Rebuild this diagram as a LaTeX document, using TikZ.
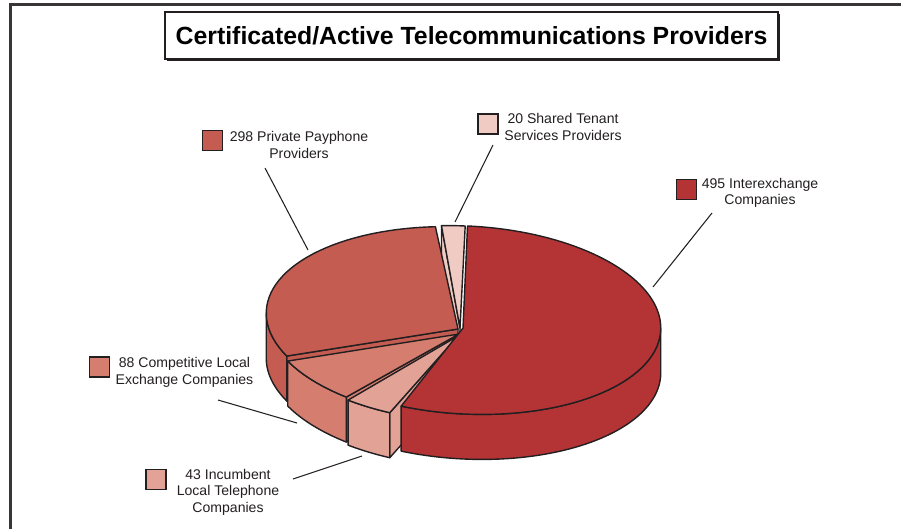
\documentclass[tikz,border=0pt]{standalone}
\usepackage{fontspec}
\setmainfont{Liberation Sans}
\usetikzlibrary{positioning, calc, shadows}

\definecolor{edgegray}{RGB}{35,31,32}
\definecolor{interred}{RGB}{180,52,54}
\definecolor{payred}{RGB}{196,92,82}
\definecolor{clecred}{RGB}{213,126,112}
\definecolor{ilecpink}{RGB}{226,162,150}
\definecolor{stspink}{RGB}{239,203,195}

\begin{document}
\begin{tikzpicture}[
    x=0.03cm, y=-0.03cm,
    declare function={ex(\t)=463+194.7*cos(\t)+4.92*sin(\t); ey(\t)=320+10.2*cos(\t)-93.87*sin(\t);},
    frame/.style={draw=edgegray!90, line width=2.2pt},
    title_box/.style={draw=edgegray, line width=1.1pt, fill=white, minimum width=18.39cm, minimum height=1.41cm, inner sep=0pt, font=\fontsize{21.2}{25}\selectfont\bfseries,
        drop shadow={opacity=1, fill=edgegray, shadow xshift=0.07cm, shadow yshift=-0.07cm}},
    slice/.style={draw=edgegray, line width=1.2pt, line join=round},
    arcpts/.style={samples=40, variable=\t},
    swatch/.style={draw=edgegray, line width=1.1pt, minimum width=0.6cm, minimum height=0.6cm, inner sep=0pt},
    lbl/.style={font=\fontsize{12}{14}\selectfont, align=center, inner sep=0pt, text=edgegray},
    leader/.style={draw=edgegray, line width=0.9pt}
]
    \useasboundingbox (0,0) rectangle (901,529);
    \def\depth{45}

    % ========== FRAME AND TITLE ==========
    \draw[frame] (10.5,529) -- (10.5,4.5) -- (901,4.5);
    \node[title_box] (title) at (471.5,35.5) {Certificated/Active Telecommunications Providers};

    % ========== PIE ==========
    % Shared tenant (top, back)
    \filldraw[slice, fill=stspink] (460,328) -- ({ex(97.8)},{ey(97.8)}) -- ({ex(97.8)},{ey(97.8)+\depth}) -- (460,328+\depth) -- cycle;
    \filldraw[slice, fill=stspink] (460,328) -- plot[arcpts, domain=90.8:97.8] ({ex(\t)},{ey(\t)}) -- cycle;

    % Private payphone
    \filldraw[slice, fill=payred] (458,329) -- ({ex(208)-2},{ey(208)+1}) -- ({ex(208)-2},{ey(208)+1+\depth}) -- (458,329+\depth) -- cycle;
    \filldraw[slice, fill=payred] plot[arcpts, domain=181.45:208] ({ex(\t)-2},{ey(\t)+1}) -- plot[arcpts, domain=208:181.45] ({ex(\t)-2},{ey(\t)+1+\depth}) -- cycle;
    \filldraw[slice, fill=payred] (458,329) -- plot[arcpts, domain=99:208] ({ex(\t)-2},{ey(\t)+1}) -- cycle;

    % Competitive local exchange
    \filldraw[slice, fill=clecred] (459,334) -- ({ex(235)-1},{ey(235)+6}) -- ({ex(235)-1},{ey(235)+6+\depth}) -- (459,334+\depth) -- cycle;
    \filldraw[slice, fill=clecred] plot[arcpts, domain=208:235] ({ex(\t)-1},{ey(\t)+6}) -- plot[arcpts, domain=235:208] ({ex(\t)-1},{ey(\t)+6+\depth}) -- cycle;
    \filldraw[slice, fill=clecred] (459,334) -- plot[arcpts, domain=208:235] ({ex(\t)-1},{ey(\t)+6}) -- cycle;

    % Incumbent local telephone
    \filldraw[slice, fill=ilecpink] (458,336) -- ({ex(250)-2},{ey(250)+8}) -- ({ex(250)-2},{ey(250)+8+\depth}) -- (458,336+\depth) -- cycle;
    \filldraw[slice, fill=ilecpink] plot[arcpts, domain=236:250] ({ex(\t)-2},{ey(\t)+8}) -- plot[arcpts, domain=250:236] ({ex(\t)-2},{ey(\t)+8+\depth}) -- cycle;
    \filldraw[slice, fill=ilecpink] (458,336) -- plot[arcpts, domain=236:250] ({ex(\t)-2},{ey(\t)+8}) -- cycle;

    % Interexchange (front, drawn last)
    \filldraw[slice, fill=interred] plot[arcpts, samples=60, domain=252:361.45] ({ex(\t)+3},{ey(\t)}) -- plot[arcpts, samples=60, domain=361.45:252] ({ex(\t)+3},{ey(\t)+\depth}) -- cycle;
    \filldraw[slice, fill=interred] (463,328) -- plot[arcpts, samples=90, domain=252:451] ({ex(\t)+3},{ey(\t)}) -- cycle;

    % ========== LEGEND LABELS ==========
    \node[swatch, fill=payred] (pp_box) at (212.5,140.5) {};
    \node[lbl] (pp_lbl) at (299,145) {298 Private Payphone\\Providers};

    \node[swatch, fill=stspink] (st_box) at (488,124) {};
    \node[lbl] (st_lbl) at (563,127) {20 Shared Tenant\\Services Providers};

    \node[swatch, fill=interred] (ie_box) at (686.5,189.5) {};
    \node[lbl] (ie_lbl) at (760,193) {495 Interexchange\\Companies};

    \node[swatch, fill=clecred] (cl_box) at (99.5,367) {};
    \node[lbl] (cl_lbl) at (184.5,372.5) {88 Competitive Local\\Exchange Companies};

    \node[swatch, fill=ilecpink] (il_box) at (156,479.5) {};
    \node[lbl] (il_lbl) at (228,492) {43 Incumbent\\Local Telephone\\Companies};

    % ========== LEADERS ==========
    \coordinate (pp_from) at (265,168);  \coordinate (pp_to) at (308,250);
    \coordinate (st_from) at (493,145);  \coordinate (st_to) at (455,222);
    \coordinate (ie_from) at (712,213);  \coordinate (ie_to) at (653,287);
    \coordinate (cl_from) at (218,400);  \coordinate (cl_to) at (297,423);
    \coordinate (il_from) at (293,479);  \coordinate (il_to) at (362,456);
    \draw[leader] (pp_from) -- (pp_to);
    \draw[leader] (st_from) -- (st_to);
    \draw[leader] (ie_from) -- (ie_to);
    \draw[leader] (cl_from) -- (cl_to);
    \draw[leader] (il_from) -- (il_to);

\end{tikzpicture}
\end{document}
